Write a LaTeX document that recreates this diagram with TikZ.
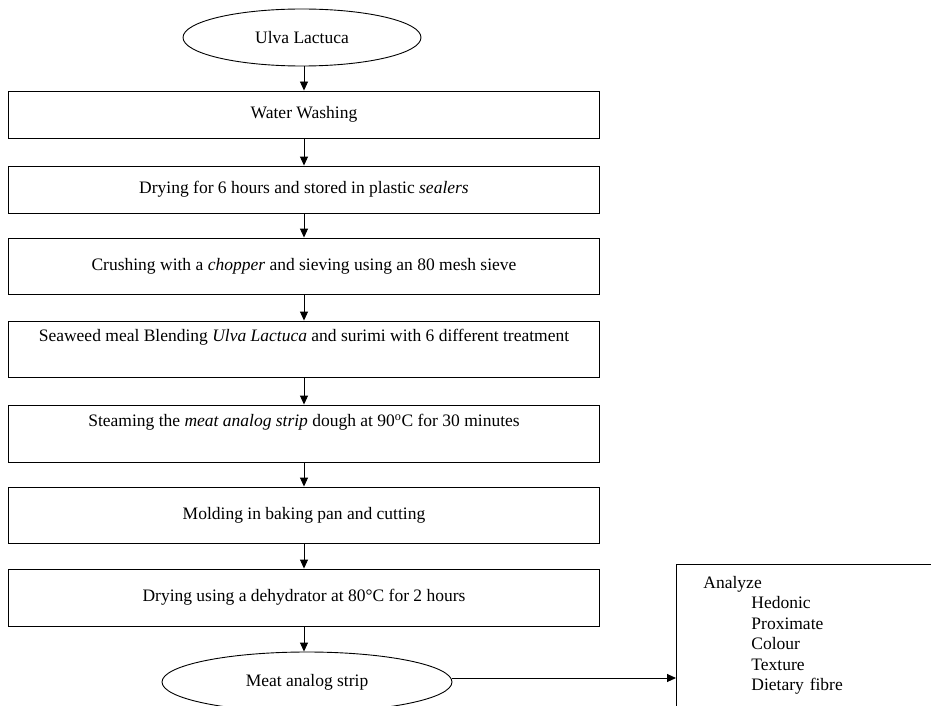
\documentclass[tikz,border=0pt]{standalone}
\usepackage{fontspec}
\setmainfont{Liberation Serif}
\usetikzlibrary{arrows.meta,shapes.geometric,positioning}

\begin{document}
\begin{tikzpicture}[x=1pt, y=-1pt,
  every node/.style={font=\fontsize{17.5}{20.4}\selectfont},
  stepbox/.style={draw, line width=0.9pt, minimum width=591pt, inner sep=0pt, align=center},
  oval/.style={draw, ellipse, line width=0.9pt, inner sep=0pt},
  arr/.style={-{Triangle[length=9pt,width=8pt]}, line width=0.9pt}]
\clip (0,0) rectangle (931,706);
% inizio
\node[oval, minimum width=238pt, minimum height=57pt] (ulva) at (302,37.5) {Ulva Lactuca};
% passi del processo
\foreach \yy/\hh/\lab [count=\i] in {
  114.5/47/{Water Washing},
  189.5/47/{Drying for 6 hours and stored in plastic \emph{sealers}},
  266/56/{Crushing with a \emph{chopper} and sieving using an 80 mesh sieve},
  349/56/{Seaweed meal Blending \emph{Ulva Lactuca} and surimi with 6 different treatment\\ \strut},
  433.5/57/{Steaming the \emph{meat analog strip} dough at 90\textsuperscript{o}C for 30 minutes\\ \strut},
  515/56/{Molding in baking pan and cutting},
  597.5/57/{Drying using a dehydrator at 80°C for 2 hours}}{
  \node[stepbox, minimum height=\hh pt] (s\i) at (304,\yy) {\lab};
}
% fine
\node[oval, minimum width=290pt, minimum height=60pt] (meat) at (307,682) {\raisebox{-4pt}{Meat analog strip}};
% analisi
\node[draw, line width=0.9pt, anchor=north west, text width=246pt, inner xsep=27pt, inner ysep=12pt, align=left] (analyze) at (676,564)
  {Analyze\\ \hspace*{48pt}Hedonic\\ \hspace*{48pt}Proximate\\ \hspace*{48pt}Colour\\ \hspace*{48pt}Texture\\ \hspace*{48pt}Dietary fibre\\ \strut\\ \strut};
% frecce
\draw[arr] (s1.north |- ulva.south) -- (s1.north);
\foreach \i/\j in {1/2, 2/3, 3/4, 4/5, 5/6, 6/7}{
  \draw[arr] (s\i.south) -- (s\j.north);
}
\draw[arr] (s7.south) -- (s7.south |- meat.north);
\draw[arr] ([yshift=4pt]meat.east) -- ([yshift=4pt]meat.east -| analyze.west);
\end{tikzpicture}
\end{document}
